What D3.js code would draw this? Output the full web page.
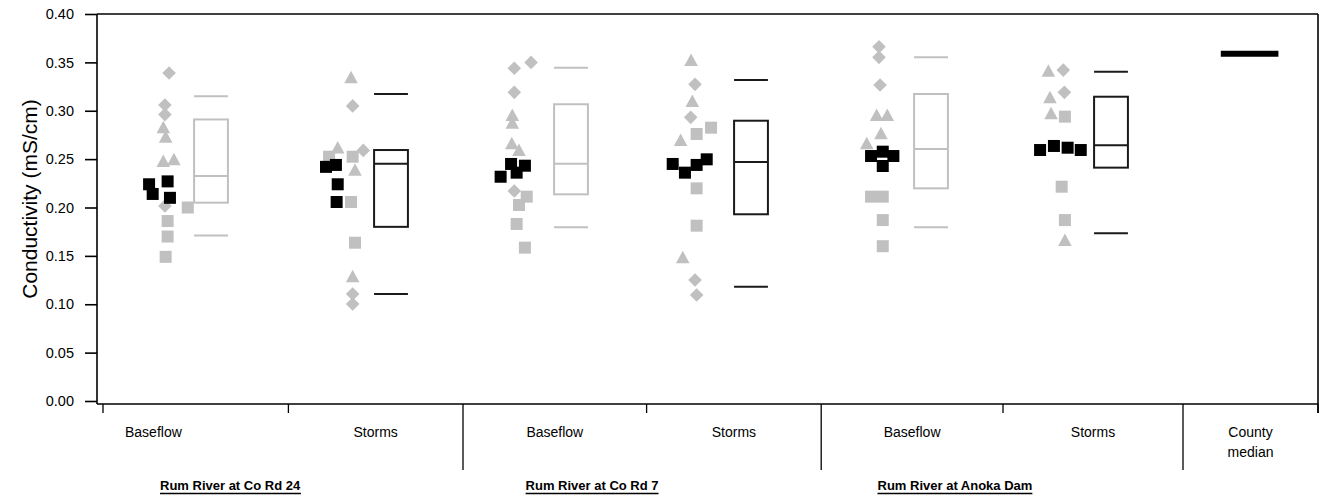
<!DOCTYPE html>
<html>
<head>
<meta charset="utf-8">
<script src="https://cdn.jsdelivr.net/npm/d3@7"></script>
<style>
  html, body { margin: 0; padding: 0; background: #fff; }
  svg { display: block; font-family: "Liberation Sans", Arial, sans-serif; }
</style>
</head>
<body>
<svg id="chart" width="1320" height="498"></svg>
<script>
// Conductivity samples per site and flow condition.
// Each sample: [conductivity mS/cm, horizontal jitter (category units), marker]
// markers: "d" diamond, "t" triangle, "s" grey square, "b" black square
const rd24Baseflow = [
  [0.339, -0.233, "d"], [0.306, -0.256, "d"], [0.296, -0.256, "d"],
  [0.283, -0.265, "t"], [0.273, -0.252, "t"], [0.248, -0.265, "t"], [0.250, -0.206, "t"],
  [0.2015, -0.256, "d"], [0.200, -0.129, "s"], [0.186, -0.241, "s"], [0.170, -0.241, "s"], [0.149, -0.252, "s"],
  [0.224, -0.344, "b"], [0.227, -0.241, "b"], [0.214, -0.324, "b"], [0.210, -0.228, "b"]
];
const rd24Storms = [
  [0.3345, -0.222, "t"], [0.305, -0.213, "d"], [0.262, -0.296, "t"], [0.259, -0.154, "d"],
  [0.2525, -0.344, "s"], [0.2525, -0.213, "s"], [0.239, -0.200, "t"], [0.2057, -0.222, "s"],
  [0.1636, -0.200, "s"], [0.129, -0.213, "t"], [0.1106, -0.213, "d"], [0.1003, -0.213, "d"],
  [0.242, -0.361, "b"], [0.244, -0.306, "b"], [0.224, -0.296, "b"], [0.2057, -0.302, "b"]
];
const rd7Baseflow = [
  [0.350, -0.222, "d"], [0.344, -0.315, "d"], [0.319, -0.315, "d"],
  [0.2956, -0.326, "t"], [0.2877, -0.326, "t"], [0.2663, -0.329, "t"], [0.2594, -0.289, "t"],
  [0.217, -0.315, "d"], [0.2112, -0.246, "s"], [0.2026, -0.289, "s"], [0.183, -0.302, "s"], [0.1585, -0.256, "s"],
  [0.245, -0.333, "b"], [0.2432, -0.256, "b"], [0.2318, -0.391, "b"], [0.236, -0.302, "b"]
];
const rd7Storms = [
  [0.3525, -0.333, "t"], [0.3273, -0.311, "d"], [0.310, -0.326, "t"], [0.2932, -0.335, "d"],
  [0.2825, -0.222, "s"], [0.276, -0.302, "s"], [0.2698, -0.391, "t"], [0.2198, -0.302, "s"],
  [0.1812, -0.302, "s"], [0.1485, -0.379, "t"], [0.125, -0.311, "d"], [0.1096, -0.302, "d"],
  [0.245, -0.435, "b"], [0.236, -0.367, "b"], [0.244, -0.302, "b"], [0.2498, -0.246, "b"]
];
const anokaBaseflow = [
  [0.3662, -0.289, "d"], [0.3552, -0.289, "d"], [0.3266, -0.283, "d"],
  [0.2956, -0.302, "t"], [0.2956, -0.243, "t"], [0.2767, -0.278, "t"], [0.2663, -0.357, "t"],
  [0.2112, -0.333, "s"], [0.2112, -0.268, "s"], [0.187, -0.268, "s"], [0.160, -0.268, "s"],
  [0.2577, -0.268, "b"], [0.2532, -0.333, "b"], [0.2532, -0.209, "b"], [0.2429, -0.268, "b"]
];
const anokaStorms = [
  [0.3414, -0.348, "t"], [0.342, -0.265, "d"], [0.3139, -0.339, "t"], [0.319, -0.259, "d"],
  [0.2973, -0.333, "t"], [0.2939, -0.256, "s"], [0.2215, -0.274, "s"], [0.187, -0.256, "s"],
  [0.1664, -0.256, "t"],
  [0.2594, -0.394, "b"], [0.2636, -0.317, "b"], [0.2618, -0.241, "b"], [0.2594, -0.168, "b"]
];

// Box summaries: [lower whisker, q1, median, q3, upper whisker]
const boxStats = [
  [0.171, 0.205, 0.2325, 0.291, 0.315],
  [0.1106, 0.180, 0.2453, 0.2594, 0.3173],
  [0.1795, 0.2136, 0.2453, 0.3067, 0.3445],
  [0.118, 0.193, 0.247, 0.2897, 0.3318],
  [0.1795, 0.2198, 0.2605, 0.3173, 0.3552],
  [0.1733, 0.2412, 0.2643, 0.3145, 0.3404]
];
const countyMedian = 0.359;

const categories = ["Baseflow", "Storms", "Baseflow", "Storms", "Baseflow", "Storms", "County median"];
const sites = ["Rum River at Co Rd 24", "Rum River at Co Rd 7", "Rum River at Anoka Dam"];
const yTicks = [0, 0.05, 0.10, 0.15, 0.20, 0.25, 0.30, 0.35, 0.40];
// category boundaries on the x axis (category units); site separators are long
const slotEdges = [-0.6, 0.43, 1.4, 2.42, 3.39, 4.4, 5.4, 6.15];
const siteEdges = [1.4, 3.39, 5.4];
const yTitle = "Conductivity (mS/cm)";

const groups = [rd24Baseflow, rd24Storms, rd7Baseflow, rd7Storms, anokaBaseflow, anokaStorms];

const svg = d3.select("#chart");
const x = d3.scaleLinear().domain([-0.6, 6.15]).range([103, 1318]);
const y = d3.scaleLinear().domain([0, 0.4]).range([401, 14]);

const GREY = "#c0c0c0";
const INK = "#000";
const axisY = 404;

// frame: top and right edges of the plot
svg.append("line").attr("x1", 97).attr("x2", x(6.15)).attr("y1", y(0.4)).attr("y2", y(0.4))
  .attr("stroke", INK).attr("stroke-width", 1.6);
svg.append("line").attr("x1", x(6.15)).attr("x2", x(6.15)).attr("y1", y(0.4)).attr("y2", axisY + 9)
  .attr("stroke", INK).attr("stroke-width", 1.6);

// y axis
const yAxis = d3.axisLeft(y).tickValues(yTicks).tickFormat(d3.format(".2f"))
  .tickSize(12).tickPadding(11).tickSizeOuter(0);
const gy = svg.append("g").attr("transform", "translate(97,0)").call(yAxis);
gy.select(".domain").remove();
gy.append("line").attr("x1", 0).attr("x2", 0).attr("y1", y(0.4)).attr("y2", axisY)
  .attr("stroke", INK).attr("stroke-width", 1.6);
gy.selectAll(".tick line").attr("stroke", INK).attr("stroke-width", 1.6);
gy.selectAll(".tick text").attr("fill", "#000").style("font-size", "14.5px")
  .style("font-family", "Liberation Sans, Arial, sans-serif");

// y title
svg.append("text")
  .attr("transform", `translate(37,199) rotate(-90)`)
  .attr("text-anchor", "middle")
  .style("font-size", "21px")
  .attr("fill", "#000")
  .text(yTitle);

// x axis baseline and category boundaries
svg.append("line").attr("x1", 97).attr("x2", x(6.15)).attr("y1", axisY).attr("y2", axisY)
  .attr("stroke", INK).attr("stroke-width", 1.6);
svg.selectAll("line.edge").data(slotEdges).join("line").attr("class", "edge")
  .attr("x1", d => x(d)).attr("x2", d => x(d))
  .attr("y1", axisY)
  .attr("y2", d => siteEdges.includes(d) ? 470 : axisY + 9)
  .attr("stroke", INK).attr("stroke-width", 1.3);

// category labels
const labelCenters = categories.map((c, i) => i === 0 ? -0.32 : (slotEdges[i] + slotEdges[i + 1]) / 2);
categories.forEach((c, i) => {
  const t = svg.append("text").attr("x", x(labelCenters[i])).attr("text-anchor", "middle")
    .style("font-size", "14px").attr("fill", "#000");
  const parts = c === "County median" ? ["County", "median"] : [c];
  parts.forEach((p, k) => {
    t.append("tspan").attr("x", x(labelCenters[i])).attr("y", 437 + k * 20).text(p);
  });
});

// site labels (bold, underlined)
const siteCenters = [0.106, 2.117, 4.133];
sites.forEach((s, i) => {
  const t = svg.append("text").attr("x", x(siteCenters[i])).attr("y", 490)
    .attr("text-anchor", "middle").style("font-size", "13px").style("font-weight", "bold")
    .attr("fill", "#000").text(s);
  const bb = t.node().getBBox();
  svg.append("line").attr("x1", bb.x).attr("x2", bb.x + bb.width)
    .attr("y1", 493.5).attr("y2", 493.5).attr("stroke", "#000").attr("stroke-width", 1.6);
});

// marker shapes
function markerPath(kind) {
  if (kind === "d") return "M0,-6.8L6.8,0L0,6.8L-6.8,0Z";
  if (kind === "t") return "M0,-6.5L6.8,6L-6.8,6Z";
  return "M-6,-6H6V6H-6Z";
}

// points: grey markers first, black squares on top
const pts = [];
groups.forEach((g, i) => g.forEach(p => pts.push({ gi: i, v: p[0], dx: p[1], k: p[2] })));
pts.sort((a, b) => (a.k === "b") - (b.k === "b"));
svg.append("g").selectAll("path").data(pts).join("path")
  .attr("d", d => markerPath(d.k))
  .attr("transform", d => `translate(${x(d.gi + d.dx)},${y(d.v)})`)
  .attr("fill", d => d.k === "b" ? "#000" : GREY);

// boxes: grey for baseflow, dark for storms
const boxHalf = 0.094;
boxStats.forEach((b, i) => {
  const col = i % 2 === 0 ? GREY : "#1a1a1a";
  const g = svg.append("g").attr("stroke", col).attr("stroke-width", 2).attr("fill", "none");
  const x0 = x(i - boxHalf), x1 = x(i + boxHalf);
  g.append("rect").attr("x", x0).attr("y", y(b[3])).attr("width", x1 - x0).attr("height", y(b[1]) - y(b[3]));
  [b[0], b[2], b[4]].forEach(v => {
    g.append("line").attr("x1", x0).attr("x2", x1).attr("y1", y(v)).attr("y2", y(v));
  });
});

// county median bar
svg.append("line").attr("x1", x(5.77 - 0.16)).attr("x2", x(5.77 + 0.16))
  .attr("y1", y(countyMedian)).attr("y2", y(countyMedian))
  .attr("stroke", "#000").attr("stroke-width", 6);
</script>
</body>
</html>
